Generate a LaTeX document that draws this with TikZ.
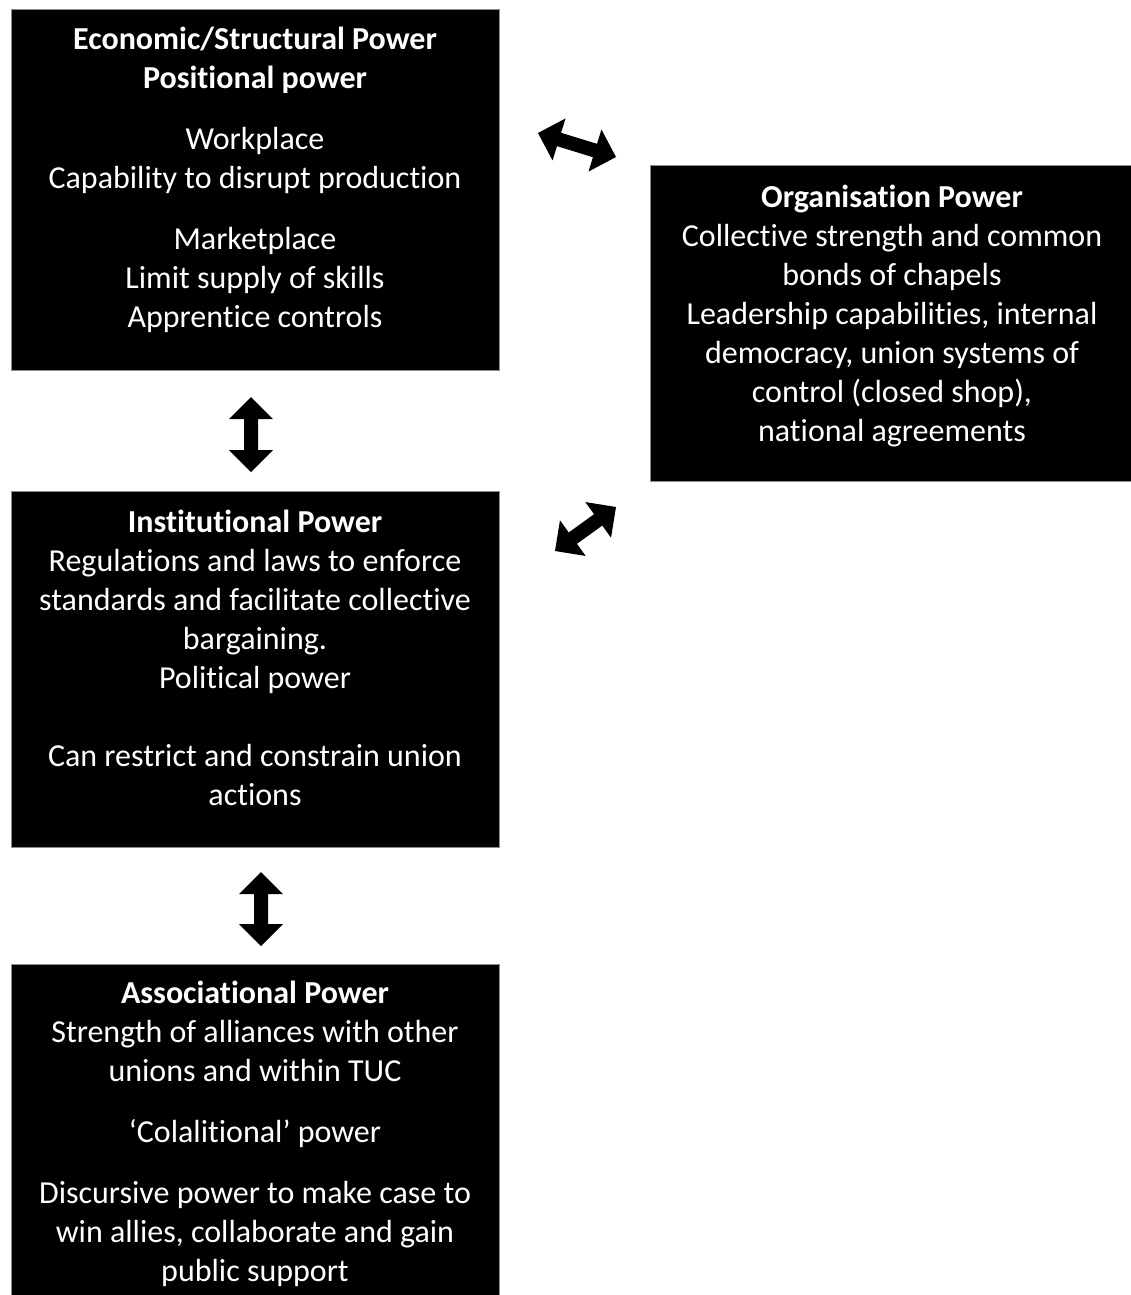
\documentclass[tikz,border=0pt]{standalone}
\usepackage{fontspec}
\setmainfont{Carlito}[Ligatures=NoCommon]
\usetikzlibrary{calc}
\definecolor{boxedge}{HTML}{8C8C8C}
\tikzset{
  powerbox/.style={rectangle, draw=boxedge, fill=black, line width=1pt, inner sep=0pt},
  boxtext/.style={text=white, align=center, font=\fontsize{32}{39}\selectfont, inner sep=0pt, anchor=base},
  arrowfill/.style={fill=black, draw=none},
}
\newcommand\arrHL{22pt}
\newcommand\arrHW{22pt}
\newcommand\arrSW{7pt}
\newcommand\dblarrow[2]{%
  \fill[arrowfill] (#1)
    -- ($(#1)!\arrHL!(#2)!\arrHW!90:(#2)$)
    -- ($(#1)!\arrHL!(#2)!\arrSW!90:(#2)$)
    -- ($(#2)!\arrHL!(#1)!\arrSW!-90:(#1)$)
    -- ($(#2)!\arrHL!(#1)!\arrHW!-90:(#1)$)
    -- (#2)
    -- ($(#2)!\arrHL!(#1)!\arrHW!90:(#1)$)
    -- ($(#2)!\arrHL!(#1)!\arrSW!90:(#1)$)
    -- ($(#1)!\arrHL!(#2)!\arrSW!-90:(#2)$)
    -- ($(#1)!\arrHL!(#2)!\arrHW!-90:(#2)$)
    -- cycle;}
\begin{document}
\begin{tikzpicture}[x=1pt,y=-1pt]
\useasboundingbox (0,0) rectangle (1130,1295);
\fill[white] (0,0) rectangle (1130,1295);

% boxes
\node[powerbox, minimum width=488pt, minimum height=360pt] (econ) at (255,190) {};
\node[powerbox, minimum width=484pt, minimum height=316pt] (org) at (892,323) {};
\node[powerbox, minimum width=488pt, minimum height=356pt] (inst) at (255,669) {};
\node[powerbox, minimum width=488pt, minimum height=336pt] (assoc) at (255,1132) {};

% texts (anchored at the baseline of their last line)
\node[boxtext] (econtext) at (255,327) {\textbf{Economic/Structural Power}\\\textbf{Positional power}\\[22pt]
Workplace\\Capability to disrupt production\\[22pt]
Marketplace\\Limit supply of skills\\Apprentice controls};

\node[boxtext] (orgtext) at (892,441) {\textbf{Organisation Power}\\Collective strength and common\\bonds of chapels\\
Leadership capabilities, internal\\democracy, union systems of\\control (closed shop),\\national agreements};

\node[boxtext] (insttext) at (255,805) {\textbf{Institutional Power}\\Regulations and laws to enforce\\standards and facilitate collective\\
bargaining.\\Political power\\[39pt]Can restrict and constrain union\\actions};

\node[boxtext] (assoctext) at (255,1281) {\textbf{Associational Power}\\Strength of alliances with other\\unions and within TUC\\[22pt]
‘Colalitional’ power\\[22pt]
Discursive power to make case to\\win allies, collaborate and gain\\public support};

% arrows
\coordinate (v1a) at (251,397);
\coordinate (v1b) at (251,472);
\coordinate (v2a) at (261,872);
\coordinate (v2b) at (261,946);
\coordinate (d1a) at (538,133);
\coordinate (d1b) at (616,157);
\coordinate (d2a) at (555,551);
\coordinate (d2b) at (616,507);
\dblarrow{v1a}{v1b}
\dblarrow{v2a}{v2b}
\dblarrow{d1a}{d1b}
\dblarrow{d2a}{d2b}
\end{tikzpicture}
\end{document}
